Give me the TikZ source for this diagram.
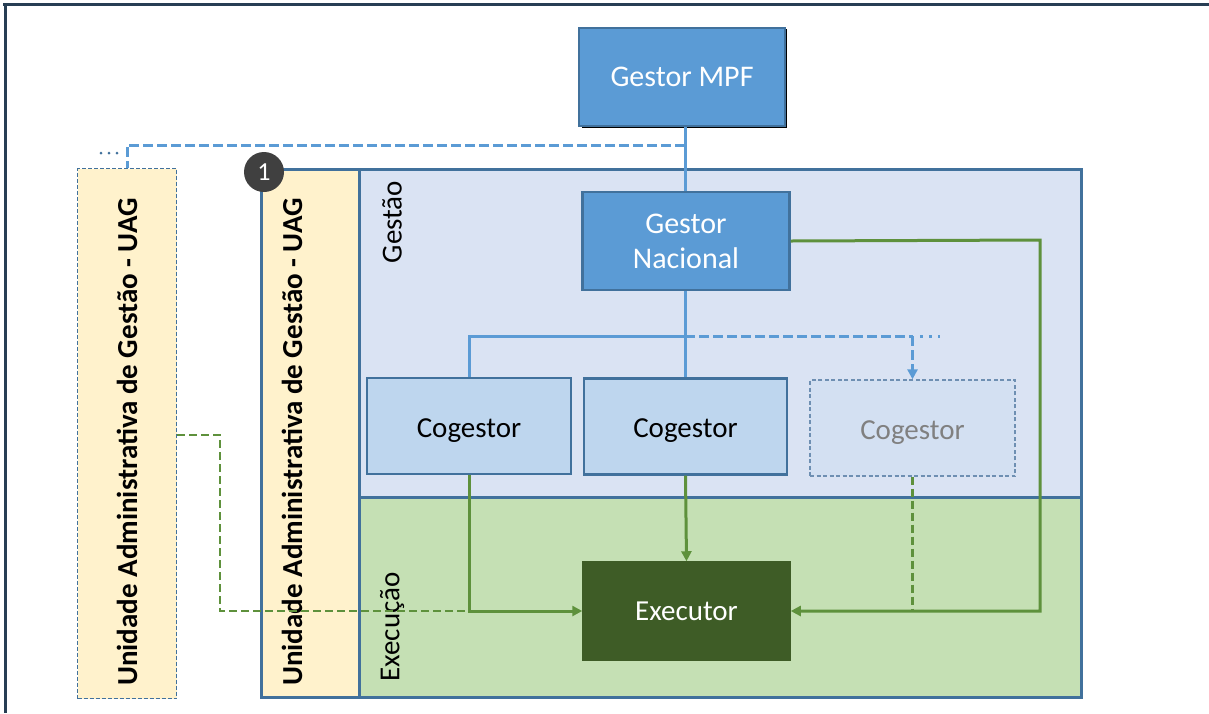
\documentclass[tikz,border=0pt]{standalone}
\usepackage{fontspec}
\setmainfont{Carlito}
\usetikzlibrary{arrows.meta}
\definecolor{frameC}{RGB}{40,62,84}
\definecolor{bdBlue}{RGB}{65,113,156}
\definecolor{mpfFill}{RGB}{91,155,213}
\definecolor{cogFill}{RGB}{190,214,238}
\definecolor{cog3Fill}{RGB}{211,224,242}
\definecolor{cog3Bd}{RGB}{110,143,178}
\definecolor{gestFill}{RGB}{218,227,243}
\definecolor{execFill}{RGB}{197,224,180}
\definecolor{uagFill}{RGB}{255,242,204}
\definecolor{exeFill}{RGB}{62,92,38}
\definecolor{lnBlue}{RGB}{91,155,213}
\definecolor{lnGreen}{RGB}{94,145,60}
\definecolor{badgeC}{RGB}{64,64,64}
\definecolor{grayTxt}{RGB}{128,128,128}
\tikzset{
  bluebox/.style={draw=bdBlue, line width=2.4pt, fill=mpfFill, text=white, font=\fontsize{30}{34}\selectfont, align=center, inner sep=0pt},
  cogbox/.style={draw=bdBlue, line width=2.4pt, fill=cogFill, text=black, font=\fontsize{29}{33}\selectfont, inner sep=0pt, minimum width=204pt, minimum height=96pt},
  cogdash/.style={draw=cog3Bd, line width=1.4pt, dash pattern=on 4pt off 2.5pt, fill=cog3Fill, text=grayTxt, font=\fontsize{29}{33}\selectfont, inner sep=0pt, minimum width=205pt, minimum height=96pt},
  exebox/.style={draw=exeFill, line width=1.5pt, fill=exeFill, text=white, font=\fontsize{29}{33}\selectfont, inner sep=0pt, minimum width=207pt, minimum height=98pt},
  region/.style={draw=bdBlue, line width=2.6pt, inner sep=0pt, anchor=north west},
  uaglabel/.style={rotate=90, font=\bfseries\fontsize{29}{33}\selectfont, text=black},
  reglabel/.style={rotate=90, font=\fontsize{29}{33}\selectfont, text=black},
  bline/.style={draw=lnBlue, line width=3pt},
  bdash/.style={draw=lnBlue, line width=3pt, dash pattern=on 10pt off 4pt},
  gline/.style={draw=lnGreen, line width=3pt},
  gdash/.style={draw=lnGreen, line width=2.6pt, dash pattern=on 8pt off 4pt},
  tip/.style={-{Triangle[length=10pt,width=10pt]}},
}
\newcommand{\coglabel}{\raisebox{-11pt}[0pt][0pt]{Cogestor}}
\begin{document}
\begin{tikzpicture}[x=1pt,y=-1pt]
\useasboundingbox (0,0) rectangle (1209,713);
\fill[white] (0,0) rectangle (1209,713);
% outer frame lines
\draw[frameC, line width=3pt] (3,4) -- (1209,4);
\draw[frameC, line width=3pt] (5,4) -- (5,713);

% shadow of big box
\fill[black!85] (262,170) rectangle (1083,699);
% regions
\node[region, fill=gestFill, minimum width=722pt, minimum height=328pt] (gest) at (358,168) {};
\node[region, fill=execFill, minimum width=722pt, minimum height=200pt] (exec) at (358,496) {};
\node[region, fill=uagFill, minimum width=98pt, minimum height=528pt] (uagR) at (260,168) {};
% left dashed UAG box
\node[draw=bdBlue, line width=1.4pt, dash pattern=on 4pt off 2pt, fill=uagFill, minimum width=99pt, minimum height=530pt, inner sep=0pt, anchor=north west] (uagL) at (77,168) {};

% labels
\node[uaglabel] (uagLt) at (127,442) {Unidade Administrativa de Gestão - UAG};
\node[uaglabel] (uagRt) at (292,442) {Unidade Administrativa de Gestão - UAG};
\node[reglabel] (gestt) at (392,222) {Gestão};
\node[reglabel] (exect) at (392,627) {Execução};

% badge
\node[circle, fill=badgeC, minimum size=40pt, inner sep=0pt, text=white, font=\fontsize{26}{30}\selectfont] (badge) at (264,172) {1};

% boxes
\fill[black] (582,29) rectangle (787,128);
\node[bluebox, minimum width=206pt, minimum height=98pt] (mpf) at (682,77) {Gestor MPF};
\node[bluebox, minimum width=207pt, minimum height=98pt] (nac) at (686,241) {Gestor\\[1pt]Nacional};
\node[cogbox] (cog1) at (469,426) {\coglabel};
\node[cogbox, minimum width=203pt] (cog2) at (685.5,426.5) {\coglabel};
\node[cogdash] (cog3) at (912.5,428) {\coglabel};
\node[exebox] (exe) at (686.5,611) {Executor};

% coordinates
\coordinate (j1) at (685,145);
\coordinate (j2) at (685,336);
\coordinate (r1) at (1040,240);
\coordinate (g1) at (220,435);

% blue connectors
\draw[bline] (mpf.south -| j1) -- (nac.north -| j1);
\draw[bdash] (j1) -- (j1 -| uagL.north) -- (uagL.north);
\fill[bdBlue] (101,153) circle (1.5pt) (109,153) circle (1.5pt) (117,153) circle (1.5pt);
\draw[bline] (nac.south -| j2) -- (cog2.north -| j2);
\draw[bline] (j2) -- (j2 -| cog1.north) -- (cog1.north);
\draw[bdash] (j2) -- (j2 -| cog3.north);
\draw[bdash, tip] (j2 -| cog3.north) -- (cog3.north);
\draw[lnBlue, line width=3pt, dash pattern=on 3pt off 6pt] (920,336) -- (940,336);

% green connectors
\draw[gline, tip] (cog2.south) -- (exe.north);
\draw[gdash] (g1 -| uagL.east) -- (g1) -- (g1 |- exe.west) -- (cog1.south |- exe.west);
\draw[gline, tip] (cog1.south) -- (cog1.south |- exe.west) -- (exe.west);
\draw[gline, tip] (nac.east) -- (r1) -- (r1 |- exe.east) -- (exe.east);
\draw[gdash] (cog3.south) -- (cog3.south |- exe.east);
\end{tikzpicture}
\end{document}
